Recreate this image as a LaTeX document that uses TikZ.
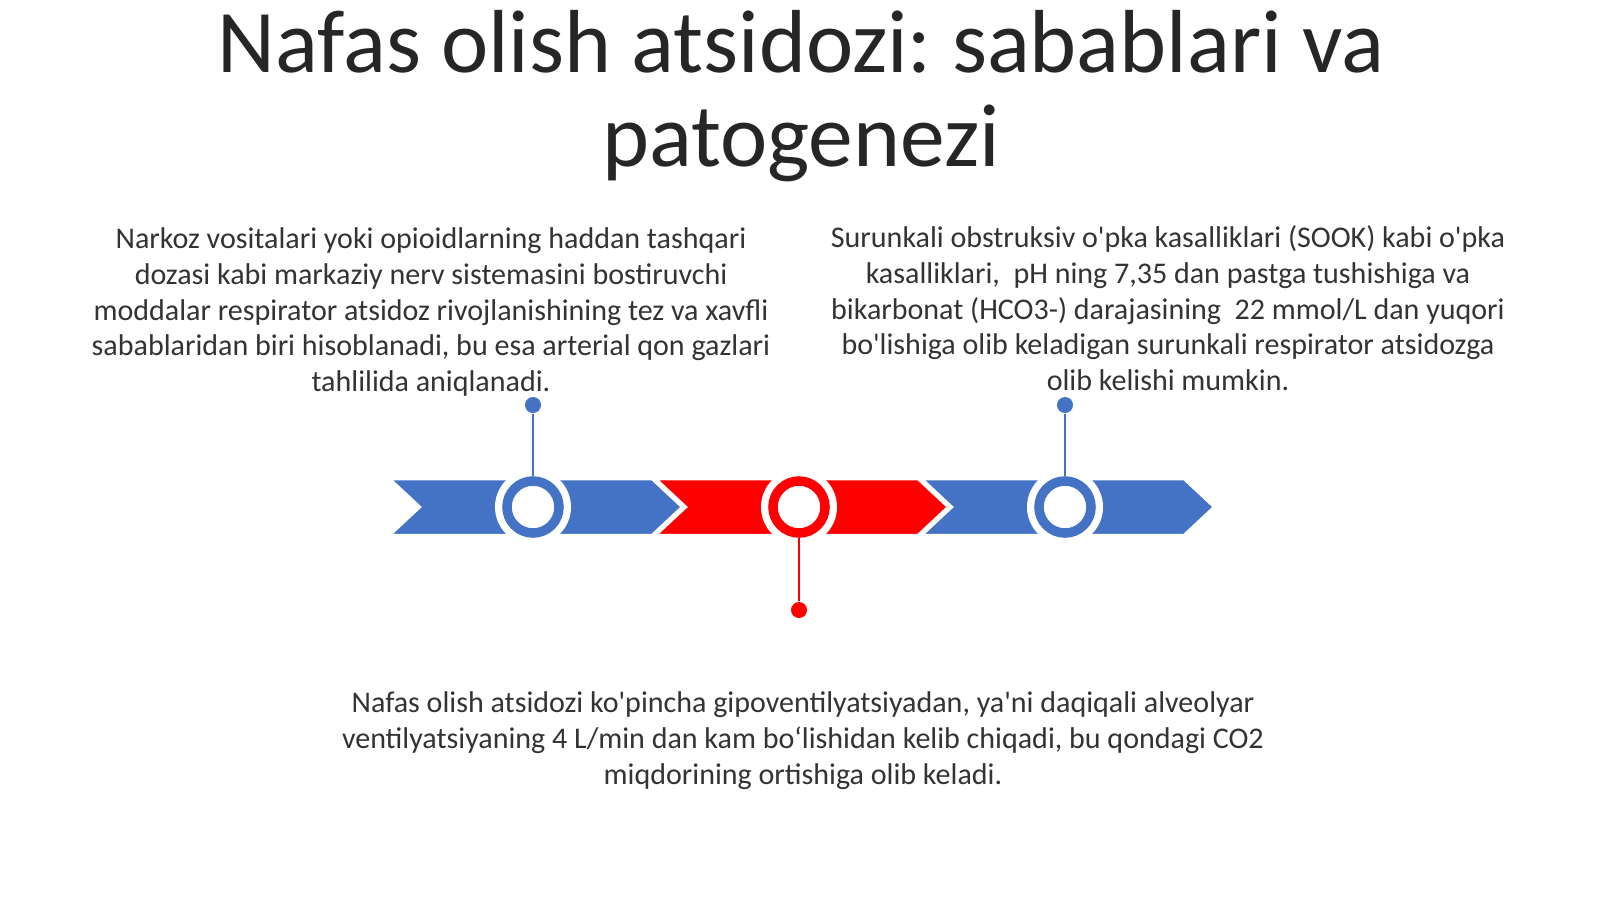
\documentclass[tikz,border=0pt]{standalone}
\usepackage{fontspec}
\setmainfont{Carlito}[Ligatures=TeXOff]
\usetikzlibrary{positioning}
\definecolor{tlblue}{RGB}{68,114,196}
\definecolor{tlred}{RGB}{255,0,0}
\definecolor{titlegray}{RGB}{38,38,38}
\definecolor{bodygray}{RGB}{51,51,51}
\tikzstyle{chev} = [draw=white, line width=0.025cm, line join=miter]
\tikzstyle{halo} = [circle, fill=white, inner sep=0, minimum size=0.76cm]
\tikzstyle{ring} = [circle, draw, line width=0.095cm, fill=white, inner sep=0, minimum size=0.52cm]
\tikzstyle{dot} = [circle, inner sep=0, minimum size=0.16cm]
\tikzstyle{conn} = [draw, line width=0.028cm]
\tikzstyle{body} = [font=\fontsize{8.54}{10.16}\selectfont, text=bodygray, align=center, inner sep=0, anchor=north]
\newcommand{\chevron}[2]{%
  \path [chev, fill=#2] (#1,479) -- ++(262,0) -- ++(30,28) -- ++(-30,28)
    -- ++(-262,0) -- ++(30,-28) -- cycle;}
\frenchspacing

\begin{document}
\begin{tikzpicture}[x=0.01cm, y=-0.01cm]
      \useasboundingbox [fill=white] (0,0) rectangle (1600,899);
      % Title
      \node [font=\fontsize{25.45}{26.7}\selectfont, text=titlegray, align=center,
        inner sep=0, anchor=north] (title) at (801,10)
        {Nafas olish atsidozi: sabablari va\\patogenezi};
      % Timeline band
      \chevron{390}{tlblue}
      \chevron{656}{tlred}
      \chevron{922}{tlblue}
      \node [halo] (h1) at (533,507) {};
      \node [halo] (h2) at (799,507) {};
      \node [halo] (h3) at (1065,507) {};
      \node [ring, draw=tlblue] (c1) at (533,507) {};
      \node [ring, draw=tlred] (c2) at (799,507) {};
      \node [ring, draw=tlblue] (c3) at (1065,507) {};
      \node [dot, fill=tlblue] (d1) at (533,405) {};
      \node [dot, fill=tlred] (d2) at (799,610) {};
      \node [dot, fill=tlblue] (d3) at (1065,405) {};
      % Draw connectors
      \path [conn, tlblue] (d1) -- (c1);
      \path [conn, tlred] (d2) -- (c2);
      \path [conn, tlblue] (d3) -- (c3);
      % Texts
      \node [body] (txtleft) at (431,227)
        {Narkoz vositalari yoki opioidlarning haddan tashqari\\
         dozasi kabi markaziy nerv sistemasini bostiruvchi\\
         moddalar respirator atsidoz rivojlanishining tez va xavfli\\
         sabablaridan biri hisoblanadi, bu esa arterial qon gazlari\\
         tahlilida aniqlanadi.};
      \node [body] (txtright) at (1168,225)
        {Surunkali obstruksiv o'pka kasalliklari (SOOK) kabi o'pka\\
         kasalliklari,\ \ pH ning 7,35 dan pastga tushishiga va\\
         bikarbonat (HCO3-) darajasining\ \ 22 mmol/L dan yuqori\\
         bo'lishiga olib keladigan surunkali respirator atsidozga\\
         olib kelishi mumkin.};
      \node [body] (txtbottom) at (803,691)
        {Nafas olish atsidozi ko'pincha gipoventilyatsiyadan, ya'ni daqiqali alveolyar\\
         ventilyatsiyaning 4 L/min dan kam bo‘lishidan kelib chiqadi, bu qondagi CO2\\
         miqdorining ortishiga olib keladi.};
  \end{tikzpicture}
\end{document}
